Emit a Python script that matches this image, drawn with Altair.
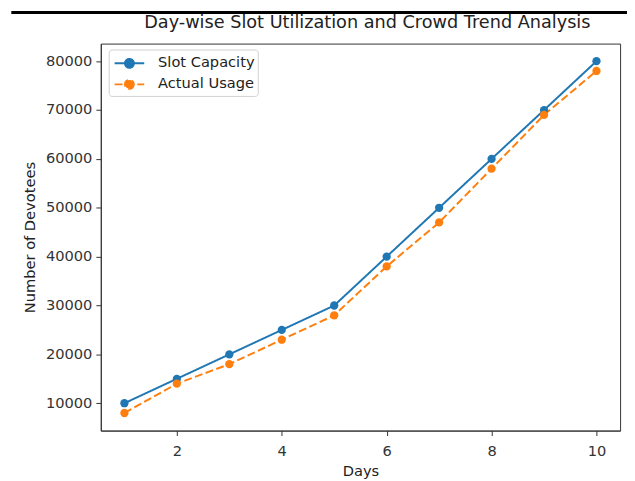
import altair as alt
import pandas as pd

days = [1, 2, 3, 4, 5, 6, 7, 8, 9, 10]
slot_capacity = [10000, 15000, 20000, 25000, 30000, 40000, 50000, 60000, 70000, 80000]
actual_usage = [8000, 14000, 18000, 23000, 28000, 38000, 47000, 58000, 69000, 78000]
series_names = ["Slot Capacity", "Actual Usage"]
series_colors = ["#1f77b4", "#ff7f0e"]
x_ticks = [2, 4, 6, 8, 10]
y_ticks = [10000, 20000, 30000, 40000, 50000, 60000, 70000, 80000]

rows = []
for d, c, u in zip(days, slot_capacity, actual_usage):
    rows.append({"Day": d, "Value": c, "Series": series_names[0]})
    rows.append({"Day": d, "Value": u, "Series": series_names[1]})
df = pd.DataFrame(rows)

W, H = 526, 392
FONT = "DejaVu Sans"
FS = 14.8

x = alt.X("Day:Q", scale=alt.Scale(domain=[0.55, 10.45], nice=False, zero=False),
          axis=alt.Axis(values=x_ticks, format="d", title="Days", titlePadding=6, labelPadding=8))
y = alt.Y("Value:Q", scale=alt.Scale(domain=[4400, 83600], nice=False, zero=False),
          axis=alt.Axis(values=y_ticks, format="d", title="Number of Devotees", titlePadding=8))

color_scale = alt.Scale(domain=series_names, range=series_colors)
dash_scale = alt.Scale(domain=series_names, range=[[1, 0], [8, 3.5]])

legend = alt.Legend(
    title=None, orient="none", legendX=8, legendY=6,
    symbolType="M-1.5,0L1.5,0M0.45,0A0.45,0.45,0,1,1,-0.45,0A0.45,0.45,0,1,1,0.45,0Z",
    symbolSize=400, symbolStrokeWidth=2, symbolOffset=7,
    labelFontSize=FS, labelFont=FONT, labelColor="#222", labelOffset=18,
    rowPadding=1.3, padding=3, strokeColor="#d0d0d0",
    fillColor="white", cornerRadius=3,
)

lines = alt.Chart(df).mark_line(strokeWidth=2).encode(
    x=x, y=y,
    color=alt.Color("Series:N", scale=color_scale, sort=series_names, legend=legend),
    strokeDash=alt.StrokeDash("Series:N", scale=dash_scale, sort=series_names, legend=legend),
    detail="Series:N",
)
points = alt.Chart(df).mark_point(filled=True, size=70, opacity=1, shape="circle").encode(
    x=x, y=y,
    color=alt.Color("Series:N", scale=color_scale, sort=series_names, legend=None),
)
topline = alt.Chart(df).mark_rule(color="black", strokeWidth=3).encode(
    x=alt.value(-90), x2=alt.value(W + 10), y=alt.value(-31.5)
)

chart = alt.layer(lines, points, topline).properties(
    width=W, height=H, background="white",
    title=alt.Title("Day-wise Slot Utilization and Crowd Trend Analysis",
                    fontSize=17.9, font=FONT, fontWeight="normal", color="#222",
                    offset=-21, frame="group", dx=7),
    autosize=alt.AutoSizeParams(type="none"),
    padding={"left": 94, "top": 33, "right": 7, "bottom": 48},
).configure_view(stroke="#333", strokeWidth=1).configure_axis(
    grid=False, domainColor="#333", tickColor="#333", tickSize=5, labelPadding=4,
    labelFont=FONT, labelFontSize=FS, labelColor="#333",
    titleFont=FONT, titleFontSize=FS, titleFontWeight="normal", titleColor="#222",
)

chart.save("out.html", embed_options={"renderer": "svg", "actions": False})
